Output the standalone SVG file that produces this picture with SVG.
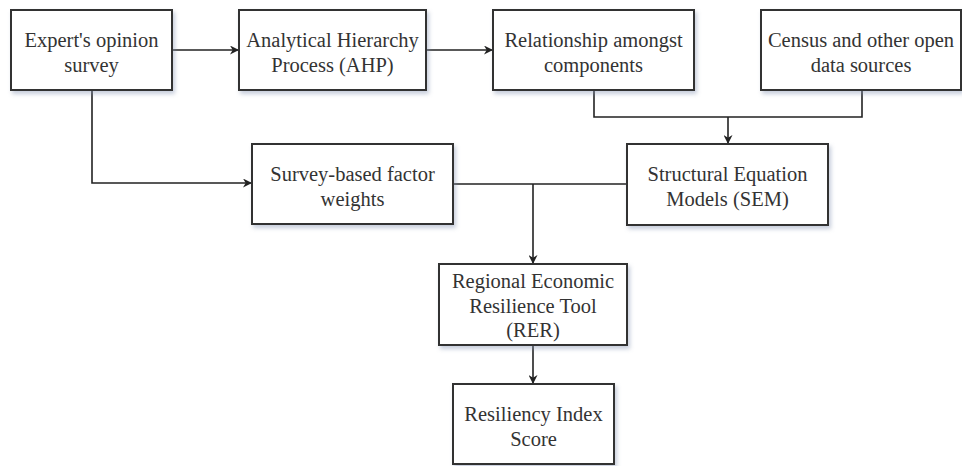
<svg xmlns="http://www.w3.org/2000/svg" width="962" height="466" viewBox="0 0 962 466">
  <style>
    .box { fill: #ffffff; stroke: #333333; stroke-width: 2; filter: url(#shadow); }
    .lbl { font-family: 'Liberation Serif', 'DejaVu Serif', serif; font-size: 20.5px; fill: #333333; text-anchor: middle; }
    .wire { fill: none; stroke: #222222; stroke-width: 1.6; }
  </style>
  <defs>
    <filter id="shadow" x="-10%" y="-10%" width="130%" height="140%">
      <feDropShadow dx="2" dy="3" stdDeviation="2" flood-color="#8090b0" flood-opacity="0.45"/>
    </filter>
    <marker id="arrow" viewBox="0 0 10 10" refX="10" refY="5" markerWidth="9" markerHeight="9" markerUnits="userSpaceOnUse" orient="auto">
      <path d="M0,0 L10,5 L0,10 L3,5 Z" fill="#222222"/>
    </marker>
  </defs>

  <rect width="962" height="466" fill="#ffffff"/>

  <!-- connectors -->
  <g id="connectors">
    <line class="wire" x1="172" y1="50" x2="239" y2="50" marker-end="url(#arrow)"/>
    <line class="wire" x1="426" y1="50" x2="493" y2="50" marker-end="url(#arrow)"/>
    <polyline class="wire" points="92,90 92,183 252,183" marker-end="url(#arrow)"/>
    <polyline class="wire" points="594,90 594,117 862,117 862,90"/>
    <line class="wire" x1="728" y1="117" x2="728" y2="144" marker-end="url(#arrow)"/>
    <line class="wire" x1="453" y1="184" x2="627" y2="184"/>
    <line class="wire" x1="533" y1="184" x2="533" y2="264" marker-end="url(#arrow)"/>
    <line class="wire" x1="533" y1="345" x2="533" y2="384" marker-end="url(#arrow)"/>
  </g>

  <g id="expert-survey">
    <rect class="box" x="11" y="10" width="161" height="80"/>
    <text class="lbl" x="91.5" y="47">Expert's opinion</text>
    <text class="lbl" x="91.5" y="72">survey</text>
  </g>

  <g id="ahp">
    <rect class="box" x="239" y="10" width="187" height="80"/>
    <text class="lbl" x="332.5" y="47">Analytical Hierarchy</text>
    <text class="lbl" x="332.5" y="72">Process (AHP)</text>
  </g>

  <g id="relationship">
    <rect class="box" x="493" y="10" width="201" height="80"/>
    <text class="lbl" x="593.5" y="47">Relationship amongst</text>
    <text class="lbl" x="593.5" y="72">components</text>
  </g>

  <g id="census">
    <rect class="box" x="761" y="10" width="200" height="80"/>
    <text class="lbl" x="861" y="47">Census and other open</text>
    <text class="lbl" x="861" y="72">data sources</text>
  </g>

  <g id="survey-weights">
    <rect class="box" x="252" y="144" width="201" height="80"/>
    <text class="lbl" x="352.5" y="181">Survey-based factor</text>
    <text class="lbl" x="352.5" y="206">weights</text>
  </g>

  <g id="sem">
    <rect class="box" x="627" y="144" width="201" height="81"/>
    <text class="lbl" x="727.5" y="181">Structural Equation</text>
    <text class="lbl" x="727.5" y="206">Models (SEM)</text>
  </g>

  <g id="rer">
    <rect class="box" x="439" y="264" width="188" height="81"/>
    <text class="lbl" x="533" y="288">Regional Economic</text>
    <text class="lbl" x="533" y="313">Resilience Tool</text>
    <text class="lbl" x="533" y="337">(RER)</text>
  </g>

  <g id="resiliency-score">
    <rect class="box" x="453" y="384" width="161" height="80"/>
    <text class="lbl" x="533.5" y="421">Resiliency Index</text>
    <text class="lbl" x="533.5" y="446">Score</text>
  </g>
</svg>
